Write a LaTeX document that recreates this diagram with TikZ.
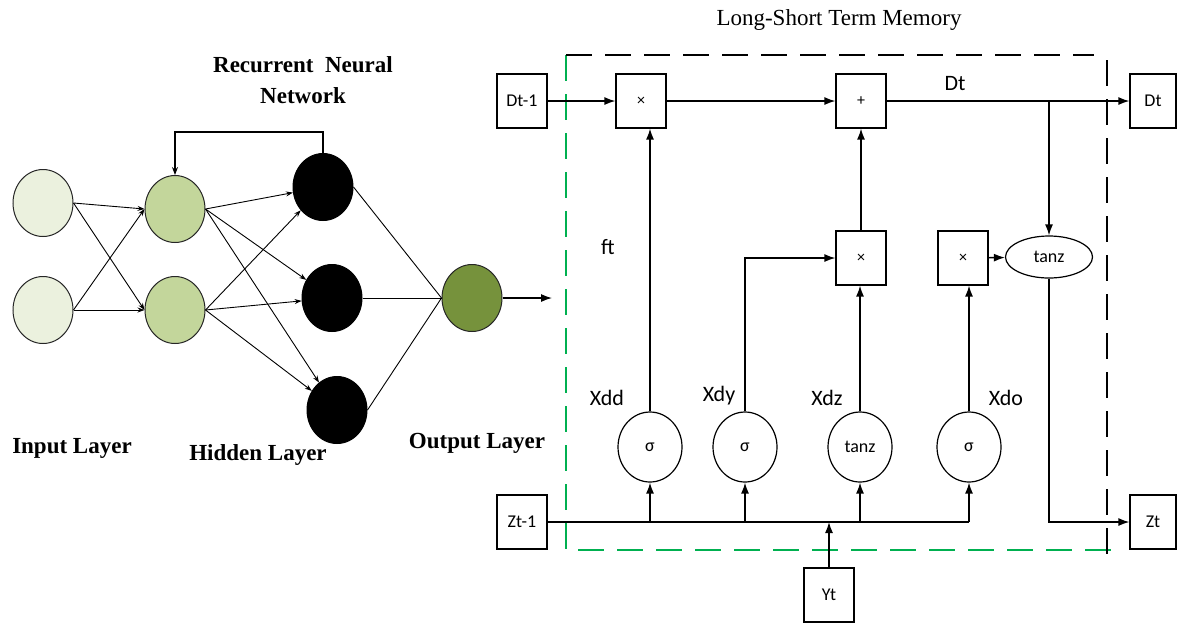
\documentclass[tikz,border=0pt]{standalone}
\usepackage{fontspec}
\setmainfont{Liberation Serif}
\newfontfamily\calfont{Carlito}
\usetikzlibrary{shapes.geometric,arrows.meta}
\definecolor{inputc}{HTML}{EBF1DE}
\definecolor{hiddenc}{HTML}{C3D69B}
\definecolor{outc}{HTML}{76923C}
\definecolor{framegreen}{HTML}{00B050}
\begin{document}
\begin{tikzpicture}[x=1pt,y=-1pt,
  neuron/.style={ellipse, draw=black!85, line width=1pt, minimum width=60pt, minimum height=67pt, inner sep=0pt},
  inl/.style={neuron, fill=inputc},
  hid/.style={neuron, fill=hiddenc},
  blk/.style={neuron, fill=black, draw=black},
  outn/.style={neuron, fill=outc},
  rarr/.style={line width=0.9pt, -{Stealth[length=7pt,width=5pt]}},
  rline/.style={line width=0.9pt},
  btitle/.style={font=\bfseries\fontsize{23}{25}\selectfont, inner sep=0pt},
  bx/.style={draw, line width=1.2pt, minimum width=50pt, minimum height=54pt, inner sep=0pt, font=\calfont\fontsize{18}{19}\selectfont},
  op/.style={bx, font=\calfont\fontsize{16}{17}\selectfont},
  ell/.style={ellipse, draw, line width=1.2pt, minimum width=64pt, minimum height=70pt, inner sep=0pt, font=\calfont\fontsize{18}{19}\selectfont},
  lab/.style={inner sep=0pt, font=\calfont\fontsize{22}{23}\selectfont},
  larr/.style={line width=1.4pt, -{Latex[length=11pt,width=8pt]}},
  lline/.style={line width=1.4pt},
  gdash/.style={draw=framegreen, line width=1.4pt, dash pattern=on 26pt off 13pt},
  kdash/.style={draw=black, line width=1.4pt, dash pattern=on 26pt off 13pt}
]
\useasboundingbox (0,0) rectangle (1177,625);

% ---------------- RNN ----------------
\node[inl] (i1) at (43,203) {};
\node[inl] (i2) at (43,310) {};
\node[hid] (h1) at (175,209) {};
\node[hid] (h2) at (175,310) {};
\node[blk] (b1) at (323,187) {};
\node[blk] (b2) at (332,298) {};
\node[blk] (b3) at (337,410) {};
\node[outn] (o) at (472,298) {};
\coordinate (oend) at (552,298);

\draw[rarr] (i1.east) -- (h1.west);
\draw[rarr] (i1.east) -- (h2.west);
\draw[rarr] (i2.east) -- (h1.west);
\draw[rarr] (i2.east) -- (h2.west);
\foreach \s in {h1,h2}{
  \foreach \t in {b1,b2,b3}{
    \draw[rarr] (\s.east) -- (\t);
  }
}
\draw[rline] (b1.east) -- (o.west);
\draw[rline] (b2.east) -- (o.west);
\draw[rline] (b3.east) -- (o.west);
\draw[line width=1.2pt, -{Latex[length=11pt,width=8pt]}] (o.east) -- (oend);
\draw[line width=1.2pt, -{Stealth[length=8pt,width=6pt]}] (b1.north) -- ++(0,-21) -| (h1.north);

\node[btitle] (rt1) at (303,65) {Recurrent\ \ Neural};
\node[btitle] (rt2) at (303,96) {Network};
\node[btitle] (il) at (72,448) {Input Layer};
\node[btitle] (hl) at (258,455) {Hidden Layer};
\node[btitle] (ol) at (477,443) {Output Layer};

% ---------------- LSTM ----------------
\node[inner sep=0pt, font=\fontsize{23}{25}\selectfont] (lt) at (839,20) {Long-Short Term Memory};

\draw[gdash] (566,55) -- (566,550) -- (1118,550);
\draw[kdash] (566,55) -- (1094,55);
\draw[kdash] (1107,60) -- (1107,556);

\node[bx] (dtm) at (522,101) {Dt-1};
\node[op] (m1) at (641,101) {×};
\node[op] (plus) at (861,101) {+};
\node[bx, minimum width=46pt] (dt) at (1153,101) {Dt};
\node[op] (m2) at (861,258) {×};
\node[op] (m3) at (963,258) {×};
\node[ell, minimum width=87pt, minimum height=42pt] (tz) at (1049,257) {tanz};
\node[ell] (s1) at (650,447) {σ};
\node[ell] (s2) at (745,447) {σ};
\node[ell] (s3) at (860,447) {tanz};
\node[ell] (s4) at (969,447) {σ};
\node[bx] (ztm) at (522,522) {Zt-1};
\node[bx, minimum width=46pt] (zt) at (1153,522) {Zt};
\node[bx] (yt) at (829,595) {Yt};

\draw[larr] (dtm) -- (m1);
\draw[larr] (m1) -- (plus);
\draw[larr] (plus) -- (dt);
\draw[larr] (tz.north |- plus.east) -- (tz.north);
\draw[larr] (m3) -- (tz);
\draw[larr] (tz.south) |- (zt.west);
\draw[lline] (ztm.east) -- (s4.south |- ztm.east);
\draw[larr] (s1.south |- ztm.east) -- (s1.south);
\draw[larr] (s2.south |- ztm.east) -- (s2.south);
\draw[larr] (s3.south |- ztm.east) -- (s3.south);
\draw[larr] (s4.south |- ztm.east) -- (s4.south);
\draw[larr] (yt.north) -- (yt.north |- ztm.east);
\draw[larr] (s1.north) -- (s1.north |- m1.south);
\draw[larr] (s2.north) |- (m2.west);
\draw[larr] (s3.north) -- (s3.north |- m2.south);
\draw[larr] (s4.north) -- (s4.north |- m3.south);
\draw[larr] (m2) -- (plus);

\node[lab] (ft) at (608,247) {ft};
\node[lab] (dtl) at (955,84) {Dt};
\node[lab] (xdd) at (607,398) {Xdd};
\node[lab] (xdy) at (719,396) {Xdy};
\node[lab] (xdz) at (827,398) {Xdz};
\node[lab] (xdo) at (1006,398) {Xdo};
\end{tikzpicture}
\end{document}
